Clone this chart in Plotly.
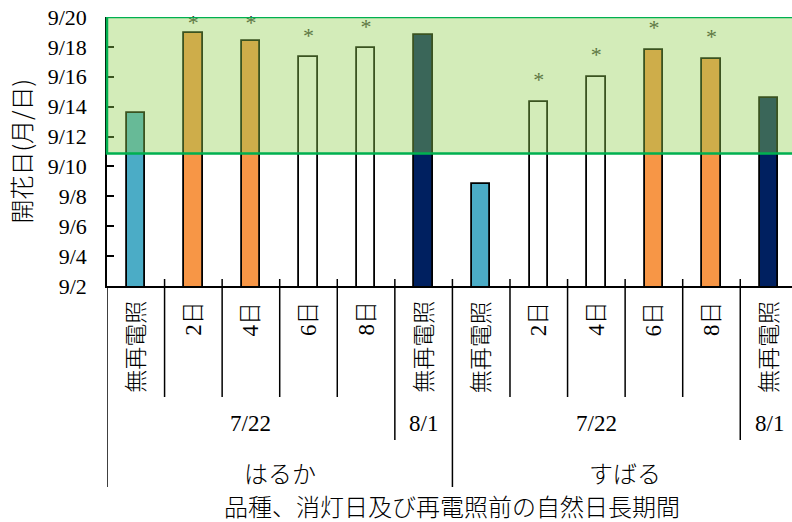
import plotly.graph_objects as go

# Flowering date (day of September, mean) for each treatment
variety = ["はるか"] * 6 + ["すばる"] * 6
period = ["7/22", "7/22", "7/22", "7/22", "7/22", "8/1"] * 2
treatment = ["無再電照", "2日", "4日", "6日", "8日", "無再電照"] * 2
flower_day = [13.6, 18.9, 18.4, 17.3, 17.9, 18.8,
              8.8, 14.3, 16.0, 17.8, 17.2, 14.6]
significant = [False, True, True, True, True, False,
               False, True, True, True, True, False]

# Target flowering window (day of September)
target_start = 10.87
target_end = 20.0

y_tick_vals = [2, 4, 6, 8, 10, 12, 14, 16, 18, 20]
y_tick_text = ["9/2", "9/4", "9/6", "9/8", "9/10", "9/12", "9/14", "9/16", "9/18", "9/20"]

# Bar fill per treatment
BLUE, ORANGE, WHITE, NAVY = "#4BACC6", "#F79646", "#FFFFFF", "#002060"
bar_colors = [BLUE, ORANGE, ORANGE, WHITE, WHITE, NAVY,
              BLUE, WHITE, WHITE, ORANGE, ORANGE, NAVY]

SERIF = "Liberation Serif, Noto Sans CJK JP"
CJK = "Noto Sans CJK JP"
CJK_WEIGHT = 300

W, H = 792, 522
M_L, M_R, M_T, M_B = 107, 0, 17, 236
PLOT_H = H - M_T - M_B
CAT_PX = 57.57

n = len(flower_day)
xs = list(range(n))

fig = go.Figure()

fig.add_trace(go.Bar(
    x=xs, y=flower_day, width=0.318,
    marker=dict(color=bar_colors, line=dict(color="#000000", width=1.8)),
    hoverinfo="skip", showlegend=False,
))

# Significance marks above the bars (text glyph sits above its anchor point)
star_x = [x for x, s in zip(xs, significant) if s]
star_y = [min(v + 1.78, 19.94) - 0.42 for v, s in zip(flower_day, significant) if s]
fig.add_trace(go.Scatter(
    x=star_x, y=star_y, mode="text", text=["*"] * len(star_x),
    textposition="middle center",
    textfont=dict(family="Liberation Serif", size=22, color="#3a3a3a"),
    hoverinfo="skip", showlegend=False, cliponaxis=False,
))

shapes = []
# Target window
shapes.append(dict(
    type="rect", xref="paper", yref="y", x0=0, x1=1.02,
    y0=target_start, y1=target_end, layer="above",
    fillcolor="rgba(146,208,80,0.4)", line=dict(color="#00B050", width=2.5),
))


def ypaper(py):
    return (H - M_B - py) / PLOT_H


# Category dividers below the axis
for i in range(n + 1):
    xb = i - 0.5
    if i == 0 or i == n or variety[i - 1] != variety[min(i, n - 1)]:
        bottom = 487
    elif period[i - 1] != period[i]:
        bottom = 440
    else:
        bottom = 397
    top = H - M_B if i == 0 else H - M_B - 7
    shapes.append(dict(
        type="line", xref="x", yref="paper", x0=xb, x1=xb,
        y0=ypaper(top), y1=ypaper(bottom),
        line=dict(color="#000000", width=1.5), layer="above",
    ))

annotations = []
# Treatment labels
for x, t in zip(xs, treatment):
    annotations.append(dict(
        x=x, y=0, xref="x", yref="paper", text=t, textangle=-90,
        yanchor="top", xanchor="center", yshift=-13, showarrow=False,
        font=dict(family=SERIF, size=23, color="#000000", weight=CJK_WEIGHT),
    ))

# Period labels (spanning groups)
groups = []
for i in range(n):
    key = (variety[i], period[i])
    if groups and groups[-1][0] == key:
        groups[-1][2] = i
    else:
        groups.append([key, i, i])
for (v, p), a, b in groups:
    annotations.append(dict(
        x=(a + b) / 2, y=0, xref="x", yref="paper", text=p,
        yanchor="middle", xanchor="center", yshift=-(423 - (H - M_B)),
        showarrow=False, font=dict(family=SERIF, size=23, color="#000000"),
    ))

# Variety labels
for v in dict.fromkeys(variety):
    idx = [i for i in range(n) if variety[i] == v]
    annotations.append(dict(
        x=(idx[0] + idx[-1]) / 2, y=0, xref="x", yref="paper", text=v,
        yanchor="middle", xanchor="center", yshift=-(472 - (H - M_B)),
        showarrow=False,
        font=dict(family=CJK, size=24, color="#000000", weight=CJK_WEIGHT),
    ))

# Axis titles
annotations.append(dict(
    x=(n - 1) / 2, y=0, xref="x", yref="paper",
    text="品種、消灯日及び再電照前の自然日長期間",
    yanchor="middle", xanchor="center", yshift=-(505 - (H - M_B)),
    showarrow=False,
    font=dict(family=CJK, size=24, color="#000000", weight=CJK_WEIGHT),
))
annotations.append(dict(
    x=0, y=0.5, xref="paper", yref="paper", text="開花日(月/日)",
    textangle=-90, xanchor="center", yanchor="middle", xshift=-87,
    showarrow=False,
    font=dict(family=CJK, size=24, color="#000000", weight=CJK_WEIGHT),
))

x_right = -0.5 + (W - M_L - M_R) / CAT_PX

fig.update_layout(
    width=W, height=H,
    margin=dict(l=M_L, r=M_R, t=M_T, b=M_B, pad=0),
    paper_bgcolor="#FFFFFF", plot_bgcolor="#FFFFFF",
    shapes=shapes, annotations=annotations,
    xaxis=dict(range=[-0.5, x_right], showticklabels=False, ticks="",
               showgrid=False, zeroline=False, showline=True,
               linecolor="#000000", linewidth=1.5, fixedrange=True),
    yaxis=dict(range=[2, 20], tickvals=y_tick_vals, ticktext=y_tick_text,
               ticks="inside", ticklen=7, tickwidth=1.5, tickcolor="#000000",
               showgrid=False, zeroline=False, showline=True,
               linecolor="#000000", linewidth=1.5, ticklabelstandoff=14,
               tickfont=dict(family="Liberation Serif", size=22, color="#000000"),
               fixedrange=True),
    bargap=0,
)

fig.write_html("out.html", config={"displayModeBar": False})
